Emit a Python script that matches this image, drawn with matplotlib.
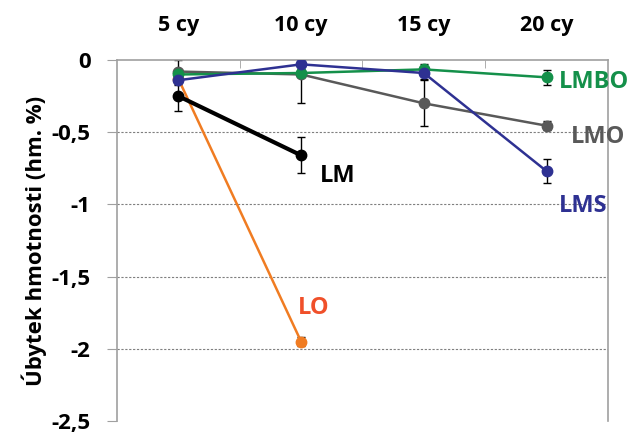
import matplotlib
matplotlib.use("Agg")
import matplotlib.pyplot as plt
import numpy as np

plt.rcParams['font.family'] = ['Open Sans', 'DejaVu Sans']
plt.rcParams['font.weight'] = 'bold'

categories = ["5 cy", "10 cy", "15 cy", "20 cy"]

LM = [-0.25, -0.66]
LM_err = [0.10, 0.125]
LO = [-0.13, -1.95]
LO_err = [0.03, 0.03]
LMO = [-0.08, -0.10, -0.30, -0.455]
LMO_err = [0.08, 0.20, 0.16, 0.03]
LMBO = [-0.10, -0.09, -0.065, -0.12]
LMBO_err = [0.03, 0.03, 0.04, 0.05]
LMS = [-0.14, -0.03, -0.09, -0.77]
LMS_err = [0.03, 0.02, 0.04, 0.085]

yticks = [0, -0.5, -1, -1.5, -2, -2.5]
ytick_labels = ["0", "-0,5", "-1", "-1,5", "-2", "-2,5"]

fig = plt.figure(figsize=(6.33, 4.33), dpi=100)
ax = fig.add_axes([0.1848, 0.0277, 0.9605 - 0.1848, 0.8614 - 0.0277])

series = [
    ("LO", LO, LO_err, "#f07c22", 1.8),
    ("LM", LM, LM_err, "#000000", 3.0),
    ("LMO", LMO, LMO_err, "#595959", 1.8),
    ("LMBO", LMBO, LMBO_err, "#14904a", 1.8),
    ("LMS", LMS, LMS_err, "#2e3192", 1.8),
]
for i, (name, vals, err, col, lw) in enumerate(series):
    x = np.arange(len(vals))
    ax.errorbar(x, vals, yerr=err, fmt='none', ecolor='black', elinewidth=1.0,
                capsize=3, capthick=1.0, zorder=2 + i * 0.1)
    ax.plot(x, vals, color=col, lw=lw, marker='o', markersize=7.5,
            markerfacecolor=col, markeredgecolor=col, zorder=3 + i * 0.1)

ax.set_xlim(-0.5, 3.5)
ax.set_ylim(-2.5, 0)
ax.xaxis.tick_top()
ax.set_xticks(np.arange(4))
ax.set_xticklabels(categories, fontsize=15.5, fontweight='bold')
ax.tick_params(axis='x', which='major', length=0, pad=17)
ax.set_xticks([0.5, 1.5, 2.5], minor=True)
ax.tick_params(axis='x', which='minor', direction='in', length=6, color='#a0a0a0', top=True, bottom=False)

ax.set_yticks(yticks)
ax.set_yticklabels(ytick_labels, fontsize=16, fontweight='bold')
ax.tick_params(axis='y', length=7, color='#a0a0a0', pad=12)
for v in [-0.5, -1, -1.5, -2]:
    ax.axhline(v, color='#7f7f7f', lw=0.8, ls=(0, (2, 1.5)), zorder=1)

for s in ['left', 'top', 'right']:
    ax.spines[s].set_color('#a0a0a0')
    ax.spines[s].set_linewidth(1.2)
ax.spines['bottom'].set_visible(False)

ax.set_ylabel("Úbytek hmotnosti (hm. %)", fontsize=16, fontweight='bold', labelpad=3)

ax.text(1.15, -0.80, "LM", color='black', fontsize=17, fontweight='bold', va='center', ha='left')
ax.text(0.97, -1.72, "LO", color='#f0502a', fontsize=17, fontweight='bold', va='center', ha='left')
ax.text(3.1, -0.15, "LMBO", color='#14904a', fontsize=17, fontweight='bold', va='center', ha='left')
ax.text(3.2, -0.535, "LMO", color='#595959', fontsize=17, fontweight='bold', va='center', ha='left')
ax.text(3.1, -1.01, "LMS", color='#2e3192', fontsize=17, fontweight='bold', va='center', ha='left')

fig.savefig("out.png", dpi=100)
